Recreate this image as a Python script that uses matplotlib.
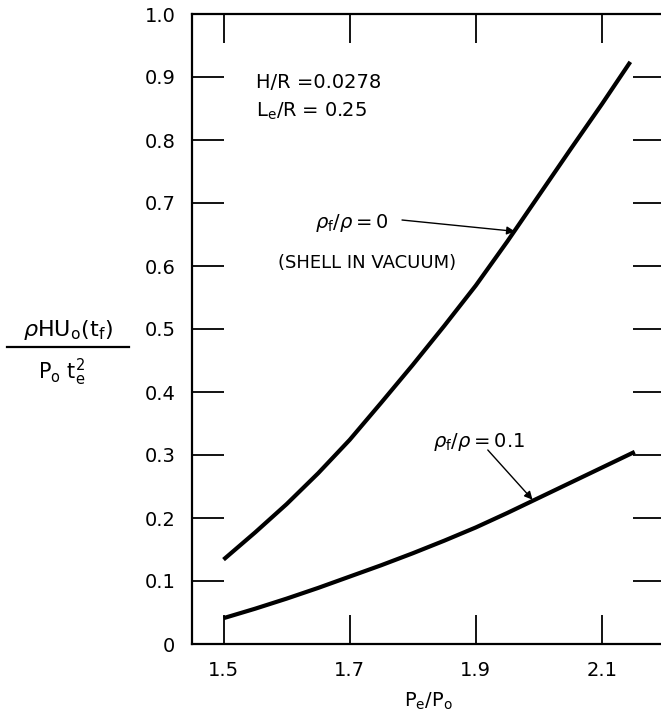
import numpy as np
import matplotlib.pyplot as plt
from matplotlib.lines import Line2D

# P_e/P_o values and response for the two fluid density ratios
x_vac = [1.5, 1.55, 1.6, 1.65, 1.7, 1.75, 1.8, 1.85, 1.9, 1.95, 2.0, 2.05, 2.1, 2.145]
y_vac = [0.134, 0.177, 0.222, 0.271, 0.324, 0.383, 0.443, 0.505, 0.569, 0.639,
         0.712, 0.785, 0.857, 0.924]    # rho_f/rho = 0

x_fl = [1.5, 1.55, 1.6, 1.65, 1.7, 1.75, 1.8, 1.85, 1.9, 1.95, 2.0, 2.05, 2.1, 2.152]
y_fl = [0.041, 0.056, 0.072, 0.089, 0.107, 0.125, 0.144, 0.164, 0.185, 0.208,
        0.232, 0.256, 0.280, 0.305]    # rho_f/rho = 0.1

xticks = [1.5, 1.7, 1.9, 2.1]
xtick_labels = ['1.5', '1.7', '1.9', '2.1']
yticks = [0, 0.1, 0.2, 0.3, 0.4, 0.5, 0.6, 0.7, 0.8, 0.9, 1.0]
ytick_labels = ['0', '0.1', '0.2', '0.3', '0.4', '0.5', '0.6', '0.7', '0.8', '0.9', '1.0']

plt.rcParams['font.family'] = ['DejaVu Sans']
plt.rcParams['mathtext.fontset'] = 'dejavusans'

W, H = 661, 727
fig = plt.figure(figsize=(W/100, H/100), dpi=100)
ax = fig.add_axes([192/W, (H-644)/H, (665-192)/W, (644-14)/H])

ax.plot(x_vac, y_vac, color='black', linewidth=3.0, solid_capstyle='butt',
        solid_joinstyle='round')
ax.plot(x_fl, y_fl, color='black', linewidth=3.0, solid_capstyle='butt',
        solid_joinstyle='round')

ax.set_xlim(1.45, 2.2)
ax.set_ylim(0, 1.0)
ax.set_xticks(xticks)
ax.set_xticklabels(xtick_labels)
ax.set_yticks(yticks)
ax.set_yticklabels(ytick_labels)
ax.tick_params(axis='both', direction='in', top=True, right=True, width=1.3,
               labelsize=14, color='black')
ax.tick_params(axis='x', length=21, pad=12)
ax.tick_params(axis='y', length=23, pad=12)
for s in ['top', 'bottom', 'left', 'right']:
    ax.spines[s].set_linewidth(1.6)

ax.set_xlabel(r'P$_\mathsf{e}$/P$_\mathsf{o}$', fontsize=14, labelpad=8)

# parameter text
ax.text(1.552, 0.892, 'H/R =0.0278', fontsize=14, va='center', ha='left')
ax.text(1.552, 0.845, r'L$_\mathsf{e}$/R = 0.25', fontsize=14, va='center', ha='left')

# curve labels with arrows
arrow = dict(arrowstyle='-|>', color='black', lw=1.0, mutation_scale=12,
             shrinkA=0, shrinkB=0)
ax.text(1.704, 0.668, r'$\rho_\mathsf{f}/\rho = \mathsf{0}$', fontsize=14,
        ha='center', va='center')
ax.annotate('', xy=(1.962, 0.655), xytext=(1.783, 0.673), arrowprops=arrow)
ax.text(1.727, 0.605, '(SHELL IN VACUUM)', fontsize=13, ha='center', va='center')

ax.text(1.905, 0.321, r'$\rho_\mathsf{f}/\rho = \mathsf{0.1}$', fontsize=14,
        ha='center', va='center')
ax.annotate('', xy=(1.990, 0.229), xytext=(1.919, 0.308), arrowprops=arrow)

# y axis label as a stacked fraction
fig.text(68/W, 1-330/H, r'$\rho$HU$_\mathsf{o}$(t$_\mathsf{f}$)', fontsize=16,
         ha='center', va='center')
fig.add_artist(Line2D([7/W, 129/W], [1-347/H, 1-347/H], color='black',
                      linewidth=1.6, transform=fig.transFigure))
fig.text(62/W, 1-372/H, r'P$_\mathsf{o}$ t$_\mathsf{e}^\mathsf{2}$', fontsize=15,
         ha='center', va='center')

fig.savefig('out.png', dpi=100)
